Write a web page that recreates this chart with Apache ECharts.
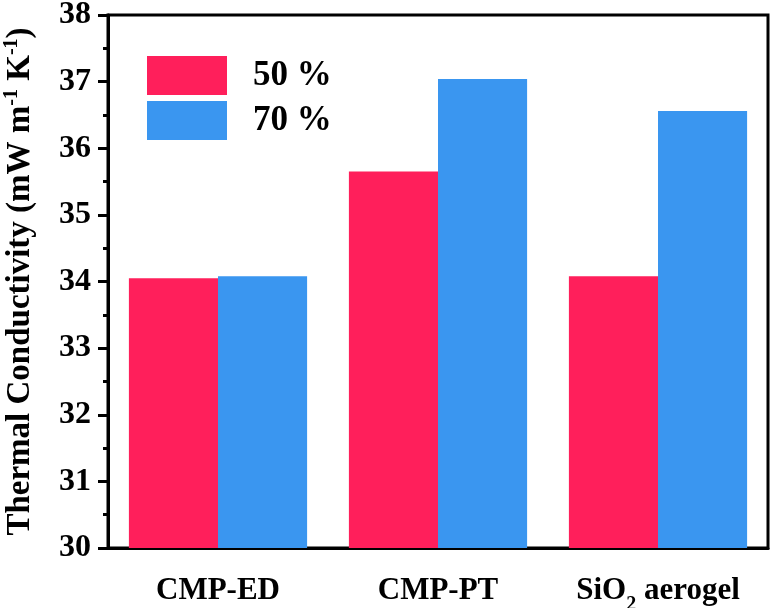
<!DOCTYPE html>
<html>
<head>
<meta charset="utf-8">
<script src="https://cdn.jsdelivr.net/npm/echarts@6/dist/echarts.min.js"></script>
<style>
  html, body { margin: 0; padding: 0; background: #fff; }
  #chart { width: 776px; height: 608px; }
</style>
</head>
<body>
<div id="chart"></div>
<script>
var categories = ['CMP-ED', 'CMP-PT', 'SiO2 aerogel'];
var seriesNames = ['50 %', '70 %'];
var values50 = [34.05, 35.65, 34.08];
var values70 = [34.08, 37.04, 36.56];
var yTicks = [30, 31, 32, 33, 34, 35, 36, 37, 38];

var font = 'Liberation Serif';
var chart = echarts.init(document.getElementById('chart'));

chart.setOption({
    backgroundColor: '#fff',
    textStyle: { fontFamily: font, fontWeight: 'bold', color: '#000' },
    grid: {
        left: 108,
        right: 8,
        top: 15,
        bottom: 60,
        outerBoundsMode: 'none',
        containLabel: false,
        show: true,
        borderColor: '#000',
        borderWidth: 3
    },
    legend: {
        orient: 'vertical',
        left: 147,
        top: 56,
        padding: 0,
        itemWidth: 80,
        itemHeight: 39,
        itemGap: 6,
        icon: 'rect',
        textStyle: { fontFamily: font, fontWeight: 'bold', fontSize: 35, color: '#000', padding: [0, 0, 0, 21] },
        data: seriesNames
    },
    xAxis: {
        type: 'category',
        data: categories,
        axisLine: { lineStyle: { color: '#000', width: 3 } },
        axisTick: { show: false },
        axisLabel: {
            margin: 27,
            formatter: function (v) {
                if (v === 'SiO2 aerogel') {
                    return '{a|SiO}{b|2}{a| aerogel}';
                }
                return '{a|' + v + '}';
            },
            rich: {
                a: { fontFamily: font, fontWeight: 'bold', fontSize: 31, color: '#000', lineHeight: 32 },
                b: { fontFamily: font, fontWeight: 'bold', fontSize: 20, color: '#000', verticalAlign: 'bottom', lineHeight: 32, padding: [0, 0, -8, 0] }
            }
        }
    },
    yAxis: {
        type: 'value',
        min: yTicks[0],
        max: yTicks[yTicks.length - 1],
        interval: 1,
        name: '{t|Thermal Conductivity (mW m}{s|-1}{t| K}{s|-1}{t|)}',
        nameLocation: 'middle',
        nameGap: 70,
        nameTextStyle: {
            rich: {
                t: { fontFamily: font, fontWeight: 'bold', fontSize: 33, color: '#000', lineHeight: 36 },
                s: { fontFamily: font, fontWeight: 'bold', fontSize: 20, color: '#000', verticalAlign: 'top', lineHeight: 36 }
            }
        },
        axisLine: { show: true, lineStyle: { color: '#000', width: 3 } },
        axisTick: { show: true, inside: false, length: 10, lineStyle: { color: '#000', width: 3 } },
        minorTick: { show: true, splitNumber: 2, length: 5, lineStyle: { color: '#000', width: 3 } },
        splitLine: { show: false },
        axisLabel: { fontFamily: font, fontWeight: 'bold', fontSize: 32, color: '#000', margin: 17 }
    },
    series: [
        {
            name: seriesNames[0],
            type: 'bar',
            data: values50,
            barGap: '0%',
            barCategoryGap: '19%',
            itemStyle: { color: '#FF1F5B' }
        },
        {
            name: seriesNames[1],
            type: 'bar',
            data: values70,
            barGap: '0%',
            barCategoryGap: '19%',
            itemStyle: { color: '#3A96F0' }
        }
    ]
});
</script>
</body>
</html>
